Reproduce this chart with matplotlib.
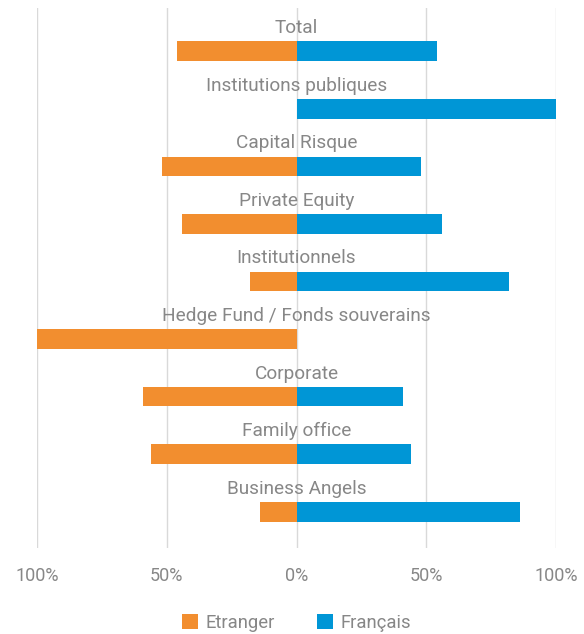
import matplotlib
matplotlib.use("Agg")
import matplotlib.pyplot as plt
import numpy as np

categories = ["Total", "Institutions publiques", "Capital Risque", "Private Equity",
              "Institutionnels", "Hedge Fund / Fonds souverains", "Corporate",
              "Family office", "Business Angels"]
etranger = [46, 0, 52, 44, 18, 100, 59, 56, 14]
francais = [54, 100, 48, 56, 82, 0, 41, 44, 86]
tick_values = [-100, -50, 0, 50, 100]
tick_labels = ["100%", "50%", "0%", "50%", "100%"]

plt.rcParams['font.family'] = ['Roboto', 'DejaVu Sans']

ORANGE = "#F28E2F"
BLUE = "#0096D6"
GRAY = "#878787"

fig = plt.figure(figsize=(5.84, 6.34), dpi=100)
ax = fig.add_axes([37/584, 86/634, (556-37)/584, (548-8)/634])

y = np.arange(len(categories))
h = 0.34
ax.barh(y, [-v for v in etranger], height=h, color=ORANGE, label="Etranger", zorder=3)
ax.barh(y, francais, height=h, color=BLUE, label="Français", zorder=3)

for yi, name in zip(y, categories):
    ax.text(0, yi - 0.40, name, ha="center", va="center", fontsize=13.7,
            color=GRAY, zorder=4)

ax.set_xlim(-100, 100)
ax.set_ylim(len(categories) - 1 + 0.63, -0.75)
ax.set_yticks([])
ax.set_xticks(tick_values)
ax.set_xticklabels(tick_labels)
ax.tick_params(axis="x", length=0, pad=14, labelsize=13, labelcolor=GRAY)
ax.grid(axis="x", color="#D9D9D9", linewidth=1, zorder=0)
for s in ax.spines.values():
    s.set_visible(False)

leg = fig.legend(loc="center", bbox_to_anchor=(0.508, 1 - 623/634), ncol=2,
                 frameon=False, handlelength=0.85, handleheight=0.85,
                 columnspacing=2.3, handletextpad=0.4,
                 prop={"size": 13.3})
for t in leg.get_texts():
    t.set_color(GRAY)

fig.savefig("out.png", dpi=100)
